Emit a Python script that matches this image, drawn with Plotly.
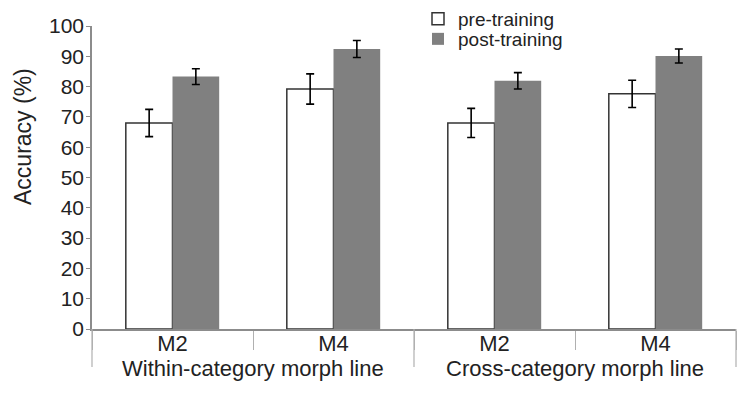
import plotly.graph_objects as go

groups = ["Within-category morph line", "Within-category morph line",
          "Cross-category morph line", "Cross-category morph line"]
morphs = ["M2", "M4", "M2", "M4"]
pre_vals = [68.0, 79.2, 68.0, 77.6]
pre_err = [4.5, 5.0, 4.8, 4.5]
post_vals = [83.3, 92.4, 81.9, 90.1]
post_err = [2.6, 2.8, 2.7, 2.3]
yticks = list(range(0, 101, 10))

FONT = "Liberation Sans, Arial, Helvetica, sans-serif"
PLOT_H = 395 - 26 - 66

# unique category keys built from group + morph
cat_keys = [f"{g} | {m}" for g, m in zip(groups, morphs)]
group_names = list(dict.fromkeys(groups))

fig = go.Figure()
fig.add_trace(go.Bar(
    x=cat_keys, y=pre_vals, name="pre-training",
    marker=dict(color="white", line=dict(color="#333333", width=1.5)),
    error_y=dict(type="data", array=pre_err, color="black", thickness=1.6, width=4),
    legend="legend",
))
fig.add_trace(go.Bar(
    x=cat_keys, y=post_vals, name="post-training",
    marker=dict(color="#808080", line=dict(color="#808080", width=0)),
    error_y=dict(type="data", array=post_err, color="black", thickness=1.6, width=4),
    legend="legend2",
))

legend_common = dict(
    font=dict(family=FONT, size=19, color="#222"),
    bgcolor="rgba(0,0,0,0)", borderwidth=0,
    xref="container", yref="container",
    xanchor="left", yanchor="middle", itemwidth=30,
    tracegroupgap=0,
)

# group divider lines (axis decoration, in axis-fraction coordinates)
n_groups = len(group_names)
divider_shapes = [
    dict(type="line", xref="paper", yref="paper", x0=i / n_groups, x1=i / n_groups,
         y0=0, y1=-38 / PLOT_H, line=dict(color="#b0b0b0", width=1.2))
    for i in range(n_groups + 1)
]
group_annotations = [
    dict(text=g, showarrow=False, xref="paper", yref="paper",
         x=(i + 0.5) / n_groups, y=-39 / PLOT_H, xanchor="center", yanchor="middle",
         font=dict(family=FONT, size=22, color="#222"))
    for i, g in enumerate(group_names)
]

fig.update_layout(
    width=750, height=395,
    margin=dict(l=92, r=14, t=26, b=66, autoexpand=False),
    paper_bgcolor="white", plot_bgcolor="white",
    barmode="group", bargap=0.42, bargroupgap=0,
    font=dict(family=FONT, color="#222"),
    showlegend=True,
    legend=dict(x=418 / 750, y=1 - 19 / 395, **legend_common),
    legend2=dict(x=418 / 750, y=1 - 39 / 395, **legend_common),
    xaxis=dict(
        type="category", automargin=False,
        tickvals=cat_keys, ticktext=morphs,
        showline=True, linecolor="#8c8c8c", linewidth=1.5,
        ticks="outside", tickson="boundaries", ticklen=19, tickcolor="#b0b0b0",
        ticklabelstandoff=-6,
        tickfont=dict(family=FONT, size=22, color="#222"),
        showgrid=False,
    ),
    yaxis=dict(
        range=[0, 100], tickvals=yticks, automargin=False,
        showline=True, linecolor="#8c8c8c", linewidth=1.5,
        ticks="outside", ticklen=4, tickcolor="#8c8c8c",
        ticklabelstandoff=-2,
        tickfont=dict(family=FONT, size=21, color="#222"),
        showgrid=False, zeroline=False,
    ),
    shapes=divider_shapes,
    annotations=group_annotations + [dict(
        text="Accuracy (%)", textangle=-90, showarrow=False,
        xref="paper", yref="paper", x=-0.107, y=0.634,
        xanchor="center", yanchor="middle",
        font=dict(family=FONT, size=23, color="#222"),
    )],
)

fig.write_html("out.html", config={"displayModeBar": False})

with open("out.html", "r", encoding="utf-8") as f:
    html = f.read()
html = html.replace("<body>", '<body style="margin:0;padding:0;">', 1)
with open("out.html", "w", encoding="utf-8") as f:
    f.write(html)
